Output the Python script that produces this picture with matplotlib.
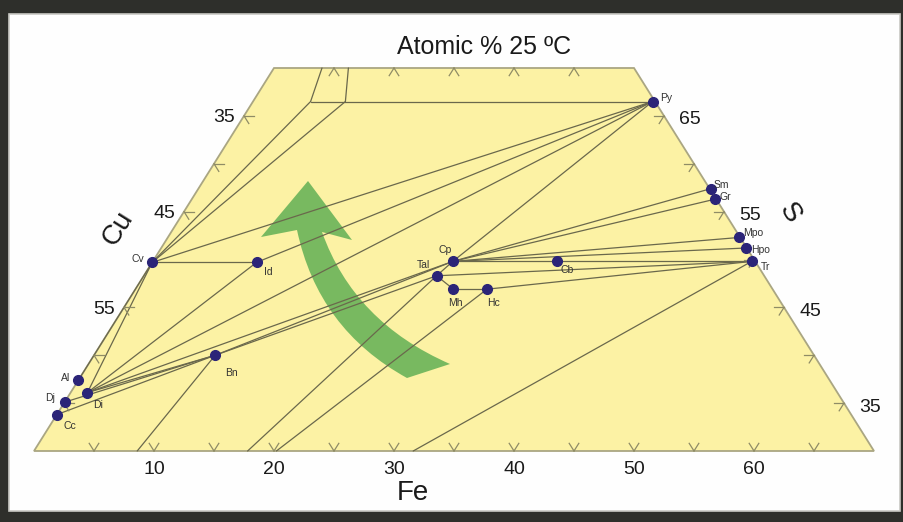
import matplotlib
matplotlib.use("Agg")
import matplotlib.pyplot as plt
import matplotlib.transforms as mtransforms
from matplotlib.patches import Polygon, Rectangle, PathPatch
from matplotlib.path import Path

plt.rcParams['font.family'] = ['Liberation Sans', 'DejaVu Sans']

# --- phases: atomic % Fe and S (Cu = 100 - Fe - S) ---
phase_names = ['Py', 'Sm', 'Gr', 'Mpo', 'Hpo', 'Tr', 'Cp', 'Cb', 'Tal', 'Mh',
               'Hc', 'Id', 'Cv', 'Bn', 'Al', 'Dj', 'Di', 'Cc']
phase_fe = [33.3, 42.7, 43.6, 47.6, 48.7, 49.9, 25.0, 33.7, 24.4, 26.5,
            29.3, 8.7, 0.0, 10.1, 0.0, 0.0, 1.4, 0.0]
phase_s = [66.5, 57.4, 56.3, 52.3, 51.2, 49.8, 49.8, 49.8, 48.3, 46.9,
           46.9, 49.7, 49.7, 40.0, 37.4, 35.1, 36.1, 33.8]
# label offsets in pixels (dx, dy up)
label_off = {'Py': (14, 4), 'Sm': (11, 4), 'Gr': (10, 2), 'Mpo': (14, 4),
             'Hpo': (15, -2), 'Tr': (14, -6), 'Cp': (-8, 11), 'Cb': (10, -9),
             'Tal': (-13, 11), 'Mh': (2, -14), 'Hc': (6, -14), 'Id': (12, -10),
             'Cv': (-14, 3), 'Bn': (16, -18), 'Al': (-13, 2), 'Dj': (-15, 4),
             'Di': (11, -12), 'Cc': (13, -11)}

# extra end points of tie lines on / near the borders
node_names = ['A', 'B', 'Atop', 'Btop', 'b1', 'b2', 'b3', 'b4']
node_fe = [4.8, 7.7, 4.0, 6.2, 8.6, 17.8, 20.2, 31.6]
node_s = [66.5, 66.5, 70.0, 70.0, 30.0, 30.0, 30.0, 30.0]

tie_lines = [
    ('A', 'Atop'), ('B', 'Btop'), ('A', 'Py'), ('Cv', 'A'), ('Cv', 'B'),
    ('Cv', 'Py'), ('Cv', 'Id'), ('Id', 'Py'), ('Cv', 'Al'), ('Cv', 'Di'),
    ('Id', 'Di'), ('Di', 'Py'), ('Di', 'Cp'), ('Di', 'Bn'), ('Cc', 'Bn'),
    ('Dj', 'Bn'), ('Bn', 'Cp'), ('Bn', 'Tal'), ('Bn', 'b1'), ('Py', 'Cp'),
    ('Cp', 'Sm'), ('Cp', 'Gr'), ('Cp', 'Mpo'), ('Cp', 'Hpo'), ('Cp', 'Tr'),
    ('Tal', 'Tr'), ('Tal', 'Cp'), ('Tal', 'Mh'), ('Mh', 'Hc'), ('Hc', 'Tr'),
    ('Tal', 'b2'), ('Hc', 'b3'), ('Tr', 'b4'),
]

fe_ticks = [5, 10, 15, 20, 25, 30, 35, 40, 45, 50, 55, 60, 65]
fe_labels = [10, 20, 30, 40, 50, 60]
top_ticks = [5, 10, 15, 20, 25]
side_ticks = [35, 40, 45, 50, 55, 60, 65]
cu_labels = [35, 45, 55]      # left side, Cu %
s_labels = [65, 55, 45, 35]   # right side, S %


def tern(fe, s):
    return fe + (s - 30) / 2.0, s


pts = {}
for n, f, s in zip(phase_names, phase_fe, phase_s):
    pts[n] = tern(f, s)
for n, f, s in zip(node_names, node_fe, node_s):
    pts[n] = tern(f, s)

W, H = 904, 522
fig = plt.figure(figsize=(W / 100, H / 100), dpi=100)
fig.patch.set_facecolor('#2e2f2b')
ax = fig.add_axes([0, 0, 1, 1])
ax.set_facecolor('none')
ax.axis('off')
# 12 px per Fe unit, 9.575 px per S unit, origin (Fe 0, S 30) at pixel (34, 451)
ax.set_xlim(-34 / 12, (W - 34) / 12)
ax.set_ylim(30 - (H - 451) / 9.575, 30 + 451 / 9.575)

pix = mtransforms.Affine2D().scale(1 / W, -1 / H).translate(0, 1) + ax.transAxes

ax.add_patch(Rectangle((9, 14), 891, 497, transform=pix, facecolor='#fefefe',
                       edgecolor='#c9c9c4', lw=1.2, zorder=0))

corners = [tern(0, 30), tern(70, 30), tern(30, 70), tern(0, 70)]
ax.add_patch(Polygon(corners, closed=True, facecolor='#fcf2a4',
                     edgecolor='#aaa682', lw=1.3, zorder=1))

# green arrow (decoration, drawn in pixel layout coordinates)
verts = [(308, 181), (352, 240), (322, 232), (354, 322), (450, 364),
         (407, 378), (318, 329), (297, 230), (261, 237), (308, 181)]
codes = [Path.MOVETO, Path.LINETO, Path.LINETO, Path.CURVE3, Path.CURVE3,
         Path.LINETO, Path.CURVE3, Path.CURVE3, Path.LINETO, Path.CLOSEPOLY]
ax.add_patch(PathPatch(Path(verts, codes), transform=pix, facecolor='#6db55a',
                       edgecolor='none', alpha=0.92, zorder=2))

# tie lines
for a, b in tie_lines:
    ax.plot([pts[a][0], pts[b][0]], [pts[a][1], pts[b][1]], color='#6a684c',
            lw=0.9, zorder=3, solid_capstyle='round')

# ternary ticks
d = 0.8
tick_kw = dict(color='#8f8c66', lw=0.9, zorder=3)
for f in fe_ticks:
    x0, y0 = tern(f, 30)
    for x1, y1 in (tern(f, 30 + d), tern(f - d, 30 + d)):
        ax.plot([x0, x1], [y0, y1], **tick_kw)
for f in top_ticks:
    x0, y0 = tern(f, 70)
    for x1, y1 in (tern(f, 70 - d), tern(f + d, 70 - d)):
        ax.plot([x0, x1], [y0, y1], **tick_kw)
for s in side_ticks:
    if s != 50:
        x0, y0 = tern(0, s)
        for x1, y1 in (tern(d, s), tern(d, s - d)):
            ax.plot([x0, x1], [y0, y1], **tick_kw)
    x0, y0 = tern(100 - s, s)
    for x1, y1 in (tern(100 - s - d, s), tern(100 - s, s - d)):
        ax.plot([x0, x1], [y0, y1], **tick_kw)

# phases
xs = [pts[n][0] for n in phase_names]
ys = [pts[n][1] for n in phase_names]
ax.plot(xs, ys, 'o', ms=7, color='#2b2478', mec='#2b2478', zorder=5, ls='none')
for n in phase_names:
    ax.annotate(n, pts[n], xytext=label_off[n], textcoords='offset pixels',
                ha='center', va='center', fontsize=7.5, color='#333333', zorder=6)

# tick labels
for f in fe_labels:
    ax.annotate(str(f), tern(f, 30), xytext=(0, -19), textcoords='offset pixels',
                ha='center', va='center', fontsize=14, color='#1a1a1a')
for c in cu_labels:
    ax.annotate(str(c), tern(0, 100 - c), xytext=(-20, -2), textcoords='offset pixels',
                ha='center', va='center', fontsize=14, color='#1a1a1a')
for s in s_labels:
    ax.annotate(str(s), tern(100 - s, s), xytext=(26, -4), textcoords='offset pixels',
                ha='center', va='center', fontsize=14, color='#1a1a1a')

ax.text(484, 47, 'Atomic % 25 ºC', transform=pix, ha='center', va='center',
        fontsize=18, color='#1a1a1a')
ax.text(413, 493, 'Fe', transform=pix, ha='center', va='center',
        fontsize=20, color='#1a1a1a')
ax.text(118, 228, 'Cu', transform=pix, ha='center', va='center', rotation=58,
        fontsize=20, color='#1a1a1a')
ax.text(790, 213, 'S', transform=pix, ha='center', va='center', rotation=-58,
        fontsize=20, color='#1a1a1a')

fig.savefig('out.png', dpi=100, facecolor=fig.get_facecolor())
